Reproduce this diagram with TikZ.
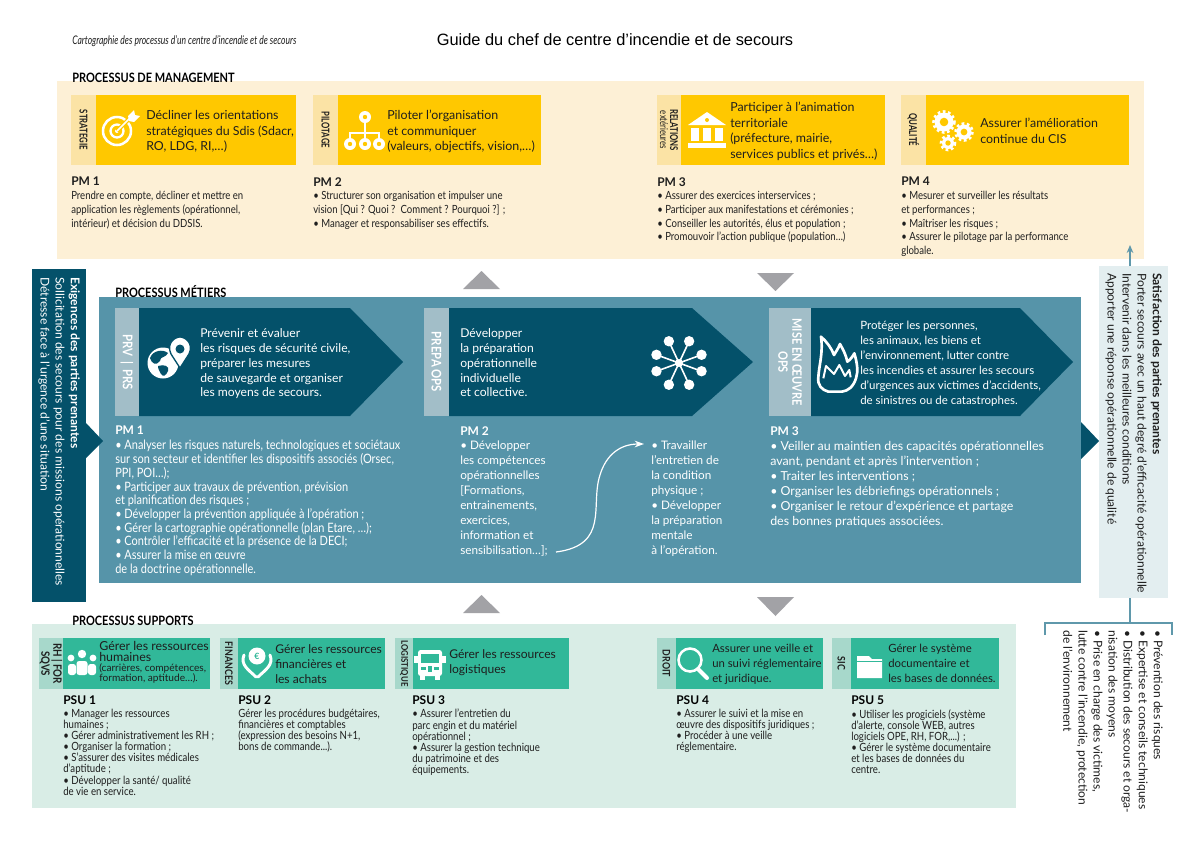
\documentclass[tikz,border=0pt]{standalone}
\usepackage{fontspec}
\setmainfont{Lato}
\newfontfamily\narf[FakeStretch=0.85]{Lato}
\newfontfamily\narrowf[FakeStretch=0.72]{Lato}
\newfontfamily\helv{Liberation Sans}
\usetikzlibrary{arrows.meta}
\definecolor{inkc}{HTML}{1E1E1E}
\definecolor{yelpanel}{HTML}{FDF0D6}
\definecolor{yelmain}{HTML}{FFC800}
\definecolor{yeltab}{HTML}{FBE3A5}
\definecolor{tealpanel}{HTML}{5694A9}
\definecolor{tealdark}{HTML}{04516A}
\definecolor{tealtab}{HTML}{A2BEC8}
\definecolor{greenpanel}{HTML}{D9EDE6}
\definecolor{greenmain}{HTML}{31B899}
\definecolor{greentab}{HTML}{A7D8CB}
\definecolor{satbox}{HTML}{E3EEF0}
\definecolor{greyarrow}{HTML}{A2A2A6}
\definecolor{linkc}{HTML}{5F98AB}
\newcommand\tabbox[7]{\fill[#6] (#1,#4) rectangle (#2,#5);\fill[#7] (#2,#4) rectangle (#3,#5);}
\newcommand\chevbox[5]{\fill[tealtab] (#1,308) rectangle (#2,416);\fill[tealdark] (#2,308) -- (#3,308) -- (#4,362) -- (#3,416) -- (#2,416) -- cycle;}
\newcommand\gearicon[3]{\fill[white] (#1,#2) circle (#3);\draw[white,line width=2.6*0.75pt,dash pattern=on 2pt off 2pt] (#1,#2) circle (#3+1);\fill[yelmain] (#1,#2) circle (#3*0.45);}
\tikzset{
 x=0.75pt,y=-0.75pt,
 bt/.style={inner sep=0,anchor=north west,align=left},
 body/.style={bt,text=inkc,font=\narf\fontsize{8.45}{10.3}\selectfont},
 pmt/.style={bt,text=inkc,font=\bfseries\fontsize{9}{10}\selectfont},
 head/.style={bt,text=black,font=\narf\bfseries\fontsize{9.7}{10}\selectfont},
 boxt/.style={bt,text=inkc,font=\fontsize{9.3}{11.7}\selectfont},
 wt/.style={bt,text=white,font=\fontsize{9.1}{11.2}\selectfont},
 wpm/.style={bt,text=white,font=\bfseries\fontsize{9}{10}\selectfont},
 wbody/.style={bt,text=white,font=\narf\fontsize{9.7}{10.3}\selectfont},
 wbig/.style={bt,text=white,font=\fontsize{8.8}{11.25}\selectfont},
 supt/.style={bt,text=inkc,font=\narf\fontsize{8.5}{8.3}\selectfont},
 suppm/.style={bt,text=black,font=\bfseries\fontsize{9}{10}\selectfont},
 sbox/.style={bt,text=inkc,font=\fontsize{9.05}{11.3}\selectfont},
 tabl/.style={inner sep=0,rotate=-90,align=center,text=inkc,font=\narrowf\bfseries\fontsize{8.1}{8.6}\selectfont},
 stabl/.style={inner sep=0,rotate=-90,align=center,text=inkc,font=\narf\bfseries\fontsize{7.8}{8.4}\selectfont},
 wtab/.style={inner sep=0,rotate=-90,align=center,text=white,font=\narf\bfseries\fontsize{10}{10.4}\selectfont},
 side/.style={inner sep=0,rotate=-90,anchor=north west,align=left,font=\fontsize{9.05}{11.3}\selectfont},
 wicon/.style={white,line width=1.9pt},
}
\begin{document}
\begin{tikzpicture}
\useasboundingbox (0,0) rectangle (1200,847);
\fill[white] (0,0) rectangle (1200,847);
% ---------- header
\node[bt,text=inkc,font=\narrowf\itshape\fontsize{8.9}{10}\selectfont] (hdrl) at (72,35) {Cartographie des processus d’un centre d’incendie et de secours};
\node[inner sep=0,text=black,font=\helv\fontsize{12.3}{14}\selectfont] (hdrc) at (615,40) {Guide du chef de centre d’incendie et de secours};
% ---------- panels
\fill[yelpanel] (57,81) rectangle (1144,259);
\fill[tealpanel] (99,297) rectangle (1081,583);
\fill[greenpanel] (32,624) rectangle (1016,808);
\node[head] (h1) at (72,73) {PROCESSUS DE MANAGEMENT};
\node[head] (h2) at (115,285) {PROCESSUS MÉTIERS};
\node[head] (h3) at (72,616) {PROCESSUS SUPPORTS};
% ---------- management
\tabbox{71}{96}{296}{95}{165}{yeltab}{yelmain}
\tabbox{313}{338}{541}{95}{165}{yeltab}{yelmain}
\tabbox{657}{681}{885}{95}{165}{yeltab}{yelmain}
\tabbox{901}{926}{1129}{95}{165}{yeltab}{yelmain}
\node[tabl] (ta1) at (83.5,130) {STRATEGIE};
\node[tabl] (ta2) at (325.5,130) {PILOTAGE};
\node[tabl] (ta3) at (669,130) {RELATIONS\\[-1pt]{\mdseries extérieures}};
\node[tabl] (ta4) at (913.5,130) {QUALITÉ};
\node[boxt] (bm1) at (146,110) {Décliner les orientations\\stratégiques du Sdis (Sdacr,\\RO, LDG, RI,…)};
\node[boxt] (bm2) at (387,110) {Piloter l’organisation\\et communiquer\\(valeurs, objectifs, vision,…)};
\node[boxt] (bm3) at (730,102) {Participer à l’animation\\territoriale\\(préfecture, mairie,\\services publics et privés…)};
\node[boxt] (bm4) at (980,118) {Assurer l’amélioration\\continue du CIS};
\node[pmt] (pa1) at (71,177) {PM 1};
\node[pmt] (pa2) at (313,177) {PM 2};
\node[pmt] (pa3) at (657,177) {PM 3};
\node[pmt] (pa4) at (901,177) {PM 4};
\node[body] (ba1) at (71,191) {Prendre en compte, décliner et mettre en\\application les règlements (opérationnel,\\intérieur) et décision du DDSIS.};
\node[body] (ba2) at (313,191) {• Structurer son organisation et impulser une\\vision [Qui ? Quoi ?\, Comment ? Pourquoi ?] ;\\• Manager et responsabiliser ses effectifs.};
\node[body] (ba3) at (657,191) {• Assurer des exercices interservices ;\\• Participer aux manifestations et cérémonies ;\\• Conseiller les autorités, élus et population ;\\• Promouvoir l’action publique (population…)};
\node[body] (ba4) at (901,191) {• Mesurer et surveiller les résultats\\et performances ;\\• Maîtriser les risques ;\\• Assurer le pilotage par la performance\\globale.};
% icons management
\draw[wicon] (117,131) circle (14);
\draw[white,line width=1.7pt] (117,131) circle (6.5);
\fill[white] (117,131) circle (2);
\draw[yelmain,line width=3pt] (117,131) -- (130,118);
\draw[white,line width=1.2pt] (117,131) -- (130,118);
\fill[white] (128,116) -- (134,110) -- (135,115) -- (140,116) -- (134,122) -- (129,121) -- cycle;
\draw[white,line width=2pt] (365,117) -- (365,144) (350,144) -- (350,133) -- (379,133) -- (379,144);
\foreach \cx/\cy in {365/117,350/144,365/144,379/144}{\fill[white] (\cx,\cy) circle (6);\fill[yelmain] (\cx,\cy) circle (2.2);}
\fill[white] (688,125) -- (707,112) -- (726,125) -- cycle;
\fill[yelmain] (707,120) circle (2);
\foreach \cx in {691,703,715}{\fill[white] (\cx,128) rectangle (\cx+8,141);}
\fill[white] (688,143) rectangle (726,148);
\gearicon{944}{122}{9.5}
\gearicon{964}{132}{7.5}
\gearicon{948}{143}{6}
% ---------- arrows between panels
\fill[greyarrow] (463,289) -- (481.5,271) -- (500,289) -- cycle;
\fill[greyarrow] (757,273) -- (794,273) -- (775.5,291) -- cycle;
\fill[greyarrow] (463,613) -- (481.5,595) -- (500,613) -- cycle;
\fill[greyarrow] (757,597) -- (794,597) -- (775.5,616) -- cycle;
% ---------- métiers
\chevbox{115}{139}{350}{403}{0}
\chevbox{424}{449}{692}{753}{0}
\chevbox{769}{811}{1020}{1073}{0}
\node[wtab] (tb1) at (127,362) {PRV \,|\, PRS};
\node[wtab] (tb2) at (436.5,362) {PREPA OPS};
\node[wtab,font=\narf\bfseries\fontsize{9.7}{10.4}\selectfont] (tb3) at (790,362) {MISE EN ŒUVRE\\OPS};
\node[wt] (cb1) at (200,328) {Prévenir et évaluer\\les risques de sécurité civile,\\préparer les mesures\\de sauvegarde et organiser\\les moyens de secours.};
\node[wt] (cb2) at (460,328) {Développer\\la préparation\\opérationnelle\\individuelle\\et collective.};
\node[wt,font=\fontsize{8.6}{11.2}\selectfont] (cb3) at (860,321) {Protéger les personnes,\\les animaux, les biens et\\l'environnement, lutter contre\\les incendies et assurer les secours\\d’urgences aux victimes d’accidents,\\de sinistres ou de catastrophes.};
\node[wpm] (pb1) at (115,426) {PM 1};
\node[wpm] (pb2) at (460,426) {PM 2};
\node[wpm] (pb3) at (770,426) {PM 3};
\node[wbody] (bb1) at (115,440) {• Analyser les risques naturels, technologiques et sociétaux\\sur son secteur et identifier les dispositifs associés (Orsec,\\PPI, POI…);\\• Participer aux travaux de prévention, prévision\\et planification des risques ;\\• Développer la prévention appliquée à l’opération ;\\• Gérer la cartographie opérationnelle (plan Etare, …);\\• Contrôler l’efficacité et la présence de la DECI;\\• Assurer la mise en œuvre\\de la doctrine opérationnelle.};
\node[wbig] (bb2) at (460,441) {• Développer\\les compétences\\opérationnelles\\{[}Formations,\\entrainements,\\exercices,\\information et\\sensibilisation…];};
\node[wbig] (bb2b) at (651,441) {• Travailler\\l’entretien de\\la condition\\physique ;\\• Développer\\la préparation\\mentale\\à l’opération.};
\node[wbig,font=\fontsize{9.3}{11.25}\selectfont] (bb3) at (770,441) {• Veiller au maintien des capacités opérationnelles\\avant, pendant et après l’intervention ;\\• Traiter les interventions ;\\• Organiser les débriefings opérationnels ;\\• Organiser le retour d’expérience et partage\\des bonnes pratiques associées.};
\coordinate (curveA) at (556,552);
\coordinate (curveB) at (644,444);
\draw[white,line width=0.9pt,-{Stealth[length=7pt,width=5pt]}] (curveA) .. controls (610,545) and (590,505) .. (600,475) .. controls (606,455) and (620,444) .. (curveB);
% icons métiers
\fill[white] (163,363) circle (15.5);
\fill[tealdark] (150,358) .. controls (153,350) and (163,349) .. (168,353) .. controls (166,358) and (160,356) .. (160,361) .. controls (156,366) and (152,364) .. cycle;
\fill[tealdark] (158,366) .. controls (164,364) and (170,366) .. (168,371) .. controls (166,376) and (163,377) .. (161,374) .. controls (160,371) and (158,370) .. cycle;
\fill[white,draw=tealdark,line width=1pt] (180,368) -- (171,354) .. controls (166,343) and (175,337) .. (180,337) .. controls (185,337) and (194,343) .. (189,354) -- cycle;
\fill[tealdark] (180,349) circle (4.5);
\foreach \a in {20,65,115,160,200,245,295,340}{\draw[white,line width=1.2pt] (679,363) -- ++(\a:24);\fill[white] (679,363) ++(\a:24) circle (5.2);}
\fill[white] (679,363) circle (4);
\begin{scope}[shift={(760,290)},scale=0.3333]
\draw[white,line width=2pt,line join=round] (205,305) .. controls (185,300) and (172,285) .. (175,262) .. controls (177,225) and (190,190) .. (183,140) .. controls (200,155) and (215,175) .. (222,195) .. controls (228,185) and (235,175) .. (240,162) .. controls (250,180) and (258,195) .. (262,215) .. controls (270,210) and (278,200) .. (283,190) .. controls (292,220) and (295,245) .. (288,265) .. controls (280,290) and (265,303) .. (245,305) -- cycle;
\draw[white,line width=1.5pt,line join=round] (190,265) -- (198,228) -- (222,252) -- (238,225) -- (255,258) -- (268,240) -- (272,262);
\end{scope}
% ---------- left and right bars
\fill[tealdark] (32,269) rectangle (86,602);
\fill[tealdark] (86,423) -- (103,441) -- (86,458) -- cycle;
\node[side,text=white] (lbar) at (80,277) {\bfseries Exigences des parties prenantes\\Sollicitation des secours pour des missions opérationnelles\\Détresse face à l’urgence d’une situation};
\fill[tealdark] (1081,422) -- (1099,441) -- (1081,459) -- cycle;
\node[inner sep=0,fill=satbox,minimum width=69*0.75pt,minimum height=332*0.75pt] (sat) at (1133.5,432) {};
\node[side,text=inkc] (rbar) at (1162,273) {\bfseries Satisfaction des parties prenantes\\Porter secours avec un haut degré d’efficacité opérationnelle\\Intervenir dans les meilleures conditions\\Apporter une réponse opérationnelle de qualité};
\coordinate (satTop) at (1130,266);
\coordinate (pmTip) at (1130,245);
\draw[linkc,line width=1pt,-{Stealth[length=6pt,width=5pt]}] (satTop) -- (pmTip);
\coordinate (satBot) at (1130,598);
\coordinate (brTop) at (1130,623);
\coordinate (brL) at (1045,635);
\coordinate (brR) at (1172,635);
\draw[linkc,line width=1pt] (satBot) -- (brTop);
\draw[linkc,line width=1pt] (brL) |- (brTop) -| (brR);
\node[side,text=inkc] (brt) at (1163,630) {• Prévention des risques\\• Expertise et conseils techniques\\• Distribution des secours et orga-\\nisation des moyens\\• Prise en charge des victimes,\\lutte contre l’incendie, protection\\de l’environnement};
% ---------- supports
\tabbox{39}{63}{210}{638}{689}{greentab}{greenmain}
\tabbox{220}{238}{385}{638}{689}{greentab}{greenmain}
\tabbox{395}{413}{569}{638}{689}{greentab}{greenmain}
\tabbox{657}{676}{823}{638}{689}{greentab}{greenmain}
\tabbox{832}{851}{999}{638}{689}{greentab}{greenmain}
\node[stabl,font=\narf\bfseries\fontsize{8.6}{9}\selectfont] (tc1) at (51,663.5) {RH | FOR\\SQVS};
\node[stabl] (tc2) at (229,663.5) {FINANCES};
\node[stabl,font=\narf\bfseries\fontsize{6.9}{8.4}\selectfont] (tc3) at (404,663.5) {LOGISTIQUE};
\node[stabl] (tc4) at (666.5,663.5) {DROIT};
\node[stabl] (tc5) at (841.5,663.5) {SIC};
\node[sbox,font=\fontsize{9.3}{8.4}\selectfont] (sb1) at (99,641) {Gérer les ressources\\humaines\\[-1pt]{\fontsize{7.6}{8.4}\selectfont (carrières, compétences,}\\[-1pt]{\fontsize{7.6}{8.4}\selectfont formation, aptitude…).}};
\node[sbox] (sb2) at (275,644) {Gérer les ressources\\financières et\\les achats};
\node[sbox] (sb3) at (449,649) {Gérer les ressources\\logistiques};
\node[sbox,font=\fontsize{8.5}{11.3}\selectfont] (sb4) at (712,644) {Assurer une veille et\\un suivi réglementaire\\et juridique.};
\node[sbox,font=\fontsize{8.5}{11.3}\selectfont] (sb5) at (888,644) {Gérer le système\\documentaire et\\les bases de données.};
\node[suppm] (pc1) at (63,695) {PSU 1};
\node[suppm] (pc2) at (238,695) {PSU 2};
\node[suppm] (pc3) at (412,695) {PSU 3};
\node[suppm] (pc4) at (676,695) {PSU 4};
\node[suppm] (pc5) at (851,695) {PSU 5};
\node[supt] (bc1) at (63,709) {• Manager les ressources\\humaines ;\\• Gérer administrativement les RH ;\\• Organiser la formation ;\\• S’assurer des visites médicales\\d’aptitude ;\\• Développer la santé/ qualité\\de vie en service.};
\node[supt] (bc2) at (238,709) {Gérer les procédures budgétaires,\\financières et comptables\\(expression des besoins N+1,\\bons de commande...).};
\node[supt] (bc3) at (412,709) {• Assurer l’entretien du\\parc engin et du matériel\\opérationnel ;\\• Assurer la gestion technique\\du patrimoine et des\\équipements.};
\node[supt] (bc4) at (676,709) {• Assurer le suivi et la mise en\\œuvre des dispositifs juridiques ;\\• Procéder à une veille\\réglementaire.};
\node[supt] (bc5) at (851,709) {• Utiliser les progiciels (système\\d’alerte, console WEB, autres\\logiciels OPE, RH, FOR,...) ;\\• Gérer le système documentaire\\et les bases de données du\\centre.};
% icons supports
\foreach \cx/\cy/\s in {82/654/4.2,71/658/3.4,93/658/3.4}{\fill[white] (\cx,\cy) circle (\s);}
\fill[white,rounded corners=2pt] (68,664) rectangle (76,675);
\fill[white,rounded corners=2pt] (88,664) rectangle (96,675);
\fill[white,rounded corners=2pt] (76.5,661) rectangle (87.5,675);
\fill[white] (257,656) circle (8.5);
\node[inner sep=0,text=greenmain,font=\bfseries\fontsize{6.5}{7}\selectfont] (euro) at (257,656) {€};
\draw[white,line width=2.2pt,line cap=round] (244,655) .. controls (240,665) and (249,670) .. (256,677);
\draw[white,line width=2.2pt,line cap=round] (270,655) .. controls (274,665) and (265,670) .. (258,677);
\fill[white,rounded corners=2pt] (418,650) rectangle (442,676);
\fill[greenmain] (421,654) rectangle (439,663);
\fill[white] (414,656) rectangle (418,663);
\fill[white] (442,656) rectangle (446,663);
\fill[white] (420,676) rectangle (425,680);
\fill[white] (435,676) rectangle (440,680);
\fill[greenmain] (421,667) rectangle (426,670);
\fill[greenmain] (434,667) rectangle (439,670);
\fill[greenmain] (428,666) rectangle (432,672);
\draw[white,line width=1.9pt] (690,660) circle (11.5);
\draw[white,line width=3pt,line cap=round] (698,669) -- (707,678);
\fill[white] (857,678) -- (857,656) -- (869,656) -- (872,659) -- (882,659) -- (882,678) -- cycle;
\draw[greenmain,line width=0.6pt] (857,661) -- (882,661);
\end{tikzpicture}
\end{document}
